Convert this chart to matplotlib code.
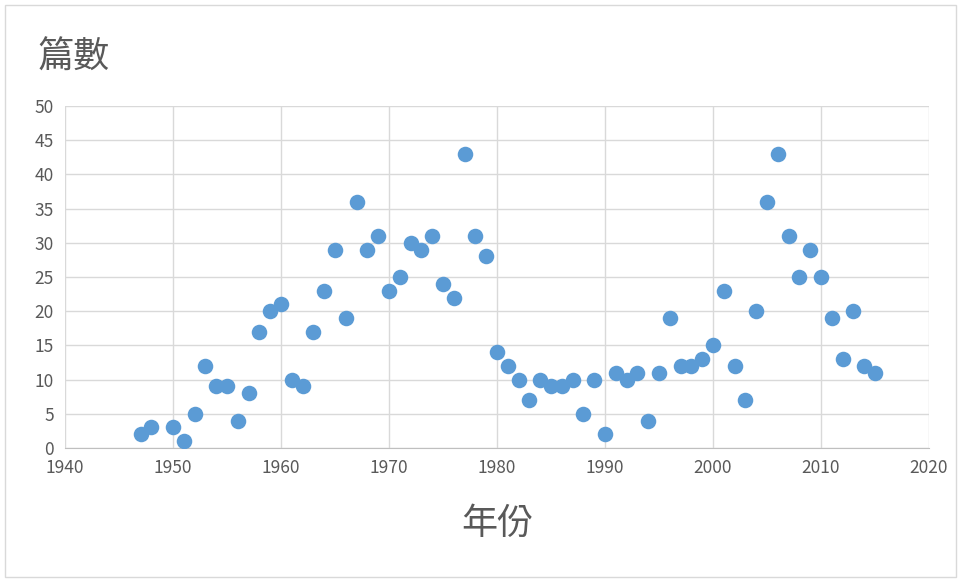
import matplotlib
matplotlib.use("Agg")
import matplotlib.pyplot as plt
from matplotlib.patches import Rectangle

# data
years = [1947, 1948, 1950, 1951, 1952, 1953, 1954, 1955, 1956, 1957,
         1958, 1959, 1960, 1961, 1962, 1963, 1964, 1965, 1966, 1967,
         1968, 1969, 1970, 1971, 1972, 1973, 1974, 1975, 1976, 1977,
         1978, 1979, 1980, 1981, 1982, 1983, 1984, 1985, 1986, 1987,
         1988, 1989, 1990, 1991, 1992, 1993, 1994, 1995, 1996, 1997,
         1998, 1999, 2000, 2001, 2002, 2003, 2004, 2005, 2006, 2007,
         2008, 2009, 2010, 2011, 2012, 2013, 2014, 2015]
counts = [2, 3, 3, 1, 5, 12, 9, 9, 4, 8,
          17, 20, 21, 10, 9, 17, 23, 29, 19, 36,
          29, 31, 23, 25, 30, 29, 31, 24, 22, 43,
          31, 28, 14, 12, 10, 7, 10, 9, 9, 10,
          5, 10, 2, 11, 10, 11, 4, 11, 19, 12,
          12, 13, 15, 23, 12, 7, 20, 36, 43, 31,
          25, 29, 25, 19, 13, 20, 12, 11]

x_ticks = list(range(1940, 2021, 10))
y_ticks = list(range(0, 51, 5))

plt.rcParams['font.family'] = ['Noto Sans CJK TC', 'DejaVu Sans']
text_color = "#595959"

fig = plt.figure(figsize=(9.61, 5.81), dpi=100)
fig.patches.append(Rectangle((5 / 961, 4 / 581), 951 / 961, 572 / 581,
                             transform=fig.transFigure, fill=False,
                             edgecolor="#d9d9d9", linewidth=1))

ax = fig.add_axes([65 / 961, 1 - 448 / 581, 864 / 961, 342 / 581])
ax.scatter(years, counts, s=125, color="#5B9BD5", zorder=3, linewidths=0)

ax.set_xlim(1940, 2020)
ax.set_ylim(0, 50)
ax.set_xticks(x_ticks)
ax.set_yticks(y_ticks)
ax.grid(True, color="#d9d9d9", linewidth=1)
ax.set_axisbelow(True)
for side in ["top", "right", "left"]:
    ax.spines[side].set_visible(False)
ax.spines["bottom"].set_color("#bfbfbf")
ax.tick_params(length=0, labelsize=12.5, colors=text_color, pad=8)

fig.text(38 / 961, 1 - 58 / 581, "篇數", fontsize=26, color=text_color,
         va="center", ha="left")
fig.text(497 / 961, 1 - 524 / 581, "年份", fontsize=26, color=text_color,
         va="center", ha="center")

fig.savefig("out.png", dpi=100)
